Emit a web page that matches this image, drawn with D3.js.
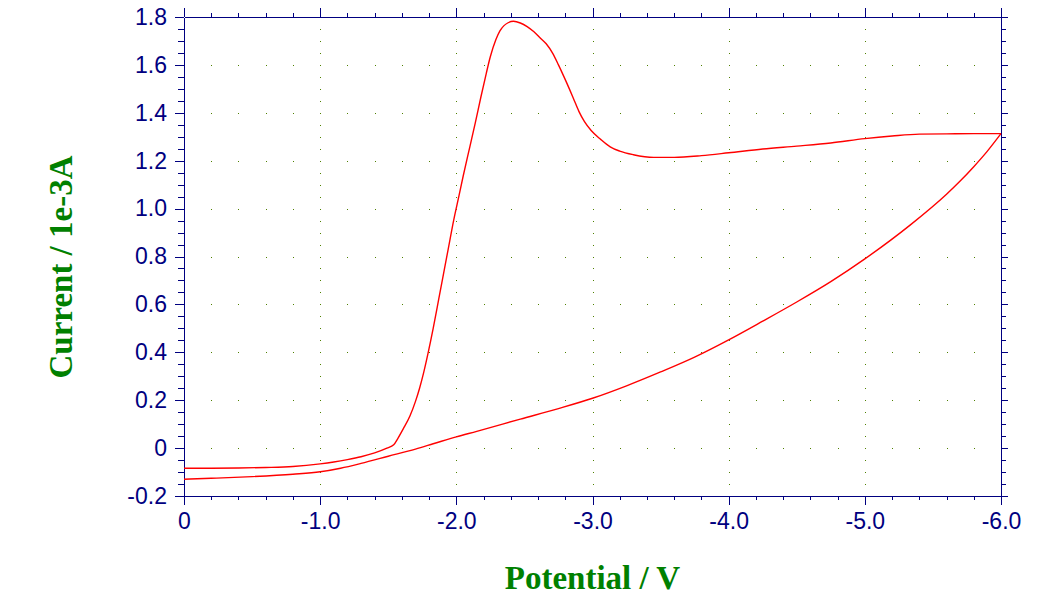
<!DOCTYPE html>
<html>
<head>
<meta charset="utf-8">
<title>Cyclic voltammogram</title>
<script src="https://d3js.org/d3.v7.min.js"></script>
<style>
    body { margin: 0; background: #fff; }
    svg { display: block; }
    .tick text { font-family: "Liberation Sans", Arial, sans-serif; font-size: 23px; fill: #000080; }
    .axis path, .axis line { stroke: #000080; stroke-width: 1px; shape-rendering: crispEdges; }
    .label { font-family: "Liberation Serif", "Times New Roman", serif; font-weight: bold; font-size: 33px; fill: #008000; }
</style>
</head>
<body>
<script>

// Forward sweep 0 -> -6 V (current in 1e-3 A)
var fwdPotential = [0, -0.2, -0.4, -0.6, -0.8, -1.0, -1.1, -1.2, -1.3, -1.4, -1.49, -1.54, -1.57, -1.61,
    -1.66, -1.70, -1.73, -1.76, -1.79, -1.83, -1.87, -1.90, -1.94, -1.98, -2.02, -2.05, -2.10, -2.14,
    -2.18, -2.22, -2.25, -2.29, -2.32, -2.35, -2.38, -2.42, -2.47, -2.52, -2.57, -2.62, -2.66, -2.71,
    -2.75, -2.79, -2.83, -2.86, -2.90, -2.94, -2.99, -3.06, -3.13, -3.20, -3.30, -3.45, -3.60, -3.80,
    -4.0, -4.25, -4.5, -4.75, -5.0, -5.2, -5.4, -5.6, -5.8, -6.0];
var fwdCurrent = [-0.084, -0.084, -0.083, -0.081, -0.077, -0.066, -0.058, -0.048, -0.036, -0.020, 0.0, 0.014, 0.04, 0.08,
    0.135, 0.195, 0.25, 0.315, 0.39, 0.50, 0.62, 0.71, 0.83, 0.95, 1.055, 1.135, 1.26, 1.36,
    1.465, 1.565, 1.635, 1.705, 1.742, 1.764, 1.776, 1.782, 1.775, 1.76, 1.738, 1.71, 1.688, 1.646,
    1.60, 1.551, 1.50, 1.46, 1.406, 1.364, 1.326, 1.289, 1.258, 1.24, 1.225, 1.214, 1.214, 1.221,
    1.233, 1.249, 1.261, 1.274, 1.292, 1.303, 1.311, 1.312, 1.313, 1.313];

// Reverse sweep -6 -> 0 V
var revPotential = [-6.0, -5.9, -5.8, -5.7, -5.6, -5.33, -5.0, -4.75, -4.5, -4.25, -4.0, -3.75, -3.5,
    -3.25, -3.0, -2.75, -2.47, -2.15, -2.0, -1.83, -1.7, -1.5, -1.3, -1.15, -1.0, -0.8, -0.5, -0.2, 0];
var revCurrent = [1.313, 1.24, 1.175, 1.115, 1.06, 0.93, 0.79, 0.695, 0.61, 0.53, 0.452, 0.38, 0.318,
    0.26, 0.208, 0.165, 0.121, 0.07, 0.047, 0.018, -0.004, -0.034, -0.064, -0.084, -0.099, -0.109, -0.119, -0.126, -0.130];

var xTicks = [0, -1, -2, -3, -4, -5, -6];
var xTickLabels = ["0", "-1.0", "-2.0", "-3.0", "-4.0", "-5.0", "-6.0"];
var yTicks = [-0.2, 0, 0.2, 0.4, 0.6, 0.8, 1.0, 1.2, 1.4, 1.6, 1.8];
var yTickLabels = ["-0.2", "0", "0.2", "0.4", "0.6", "0.8", "1.0", "1.2", "1.4", "1.6", "1.8"];

var width = 1040, height = 606;
var plotLeft = 184, plotRight = 1001, plotTop = 17, plotBottom = 496;

var svg = d3.select("body").append("svg")
    .attr("width", width)
    .attr("height", height);

var x = d3.scaleLinear().domain([0, -6]).range([plotLeft, plotRight]);
var y = d3.scaleLinear().domain([-0.2, 1.8]).range([plotBottom, plotTop]);

// minor tick positions
var xMinor = d3.range(0, 31).map(function(i) { return -i * 0.2; });
var yMinor = d3.range(0, 41).map(function(i) { return -0.2 + i * 0.05; });

// dotted grid: dots along major lines at minor tick spacing
var grid = svg.append("g").attr("fill", "#4f8000");
xTicks.slice(1, -1).forEach(function(v) {
    yMinor.slice(1, -1).forEach(function(c) {
        grid.append("rect").attr("x", Math.round(x(v))).attr("y", Math.round(y(c))).attr("width", 1).attr("height", 1);
    });
});
yTicks.slice(1, -1).forEach(function(c) {
    xMinor.slice(1, -1).forEach(function(v) {
        if (xTicks.indexOf(Math.round(v * 10) / 10) >= 0) return;
        grid.append("rect").attr("x", Math.round(x(v))).attr("y", Math.round(y(c))).attr("width", 1).attr("height", 1);
    });
});

function fmt(list, labels) {
    return function(d) {
        var i = list.findIndex(function(t) { return Math.abs(t - d) < 1e-9; });
        return labels[i];
    };
}

// bottom axis
svg.append("g").attr("class", "axis").attr("transform", "translate(0," + plotBottom + ")")
    .call(d3.axisBottom(x).tickValues(xMinor).tickSize(4).tickSizeOuter(0).tickFormat(""));
svg.append("g").attr("class", "axis").attr("transform", "translate(0," + plotBottom + ")")
    .call(d3.axisBottom(x).tickValues(xTicks).tickSize(9).tickSizeOuter(0).tickPadding(8).tickFormat(fmt(xTicks, xTickLabels)));

// top axis
svg.append("g").attr("class", "axis").attr("transform", "translate(0," + plotTop + ")")
    .call(d3.axisTop(x).tickValues(xMinor).tickSize(4).tickSizeOuter(0).tickFormat(""));
svg.append("g").attr("class", "axis").attr("transform", "translate(0," + plotTop + ")")
    .call(d3.axisTop(x).tickValues(xTicks).tickSize(9).tickSizeOuter(0).tickFormat(""));

// left axis
svg.append("g").attr("class", "axis").attr("transform", "translate(" + plotLeft + ",0)")
    .call(d3.axisLeft(y).tickValues(yMinor).tickSize(6).tickSizeOuter(0).tickFormat(""));
svg.append("g").attr("class", "axis").attr("transform", "translate(" + plotLeft + ",0)")
    .call(d3.axisLeft(y).tickValues(yTicks).tickSize(9).tickSizeOuter(0).tickPadding(8).tickFormat(fmt(yTicks, yTickLabels)));

// right axis
svg.append("g").attr("class", "axis").attr("transform", "translate(" + plotRight + ",0)")
    .call(d3.axisRight(y).tickValues(yMinor).tickSize(5).tickSizeOuter(0).tickFormat(""));
svg.append("g").attr("class", "axis").attr("transform", "translate(" + plotRight + ",0)")
    .call(d3.axisRight(y).tickValues(yTicks).tickSize(7).tickSizeOuter(0).tickFormat(""));

// voltammogram, one path per sweep
var line = d3.line()
    .x(function(d) { return x(d[0]); })
    .y(function(d) { return y(d[1]); })
    .curve(d3.curveMonotoneX);

var fwdPts = fwdPotential.map(function(v, i) { return [v, fwdCurrent[i]]; });
var revPts = revPotential.map(function(v, i) { return [v, revCurrent[i]]; });
[fwdPts, revPts].forEach(function(p) {
    svg.append("path")
        .datum(p)
        .attr("fill", "none")
        .attr("stroke", "#ff0000")
        .attr("stroke-width", 1.4)
        .attr("d", line);
});

// axis titles
svg.append("text").attr("class", "label")
    .attr("x", (plotLeft + plotRight) / 2).attr("y", 589)
    .attr("text-anchor", "middle")
    .text("Potential / V");

svg.append("text").attr("class", "label")
    .attr("transform", "translate(72,267) rotate(-90)")
    .attr("text-anchor", "middle")
    .text("Current / 1e-3A");

</script>
</body>
</html>
